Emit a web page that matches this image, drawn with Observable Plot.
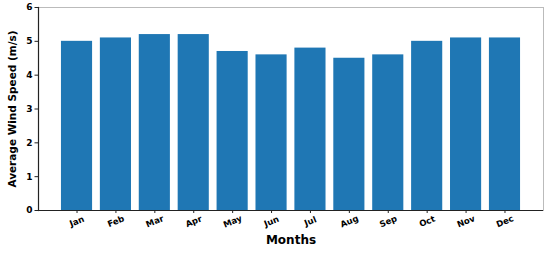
<!DOCTYPE html>
<html>
<head>
<meta charset="utf-8">
<script src="https://cdn.jsdelivr.net/npm/d3@7"></script>
<script src="https://cdn.jsdelivr.net/npm/@observablehq/plot@0.6"></script>
<style>
  html, body { margin: 0; padding: 0; background: #fff; }
  svg { display: block; }
</style>
</head>
<body>
<div id="chart"></div>
<script>
const months = ["Jan","Feb","Mar","Apr","May","Jun","Jul","Aug","Sep","Oct","Nov","Dec"];
const windSpeed = [5.0, 5.1, 5.2, 5.2, 4.7, 4.6, 4.8, 4.5, 4.6, 5.0, 5.1, 5.1];
const yTicks = [0, 1, 2, 3, 4, 5, 6];
const xLabel = "Months";
const yLabel = "Average Wind Speed (m/s)";

const data = months.map((m, i) => ({month: m, value: windSpeed[i]}));
const font = "DejaVu Sans, sans-serif";

const chart = Plot.plot({
  width: 550,
  height: 253,
  marginLeft: 38,
  marginRight: 7,
  marginTop: 7,
  marginBottom: 43,
  style: {fontFamily: font, background: "#fff", overflow: "visible"},
  x: {domain: months, paddingInner: 0.2, paddingOuter: 0.59, round: false, axis: null},
  y: {domain: [0, 6], axis: null},
  marks: [
    Plot.frame({stroke: "#bbb", strokeWidth: 1}),
    Plot.barY(data, {x: "month", y: "value", fill: "#1f77b4", inset: 0}),
    Plot.frame({anchor: "left", stroke: "#222", strokeWidth: 1.2}),
    Plot.ruleY([0], {stroke: "#222", strokeWidth: 1.2}),
    Plot.axisY(yTicks, {
      tickSize: 3.5, tickPadding: 2.5, fontSize: 9, fontWeight: "bold",
      stroke: "#222", label: null, tickFormat: d => String(d)
    }),
    Plot.axisX(months, {tickSize: 3, stroke: "#222", label: null, tickFormat: () => ""}),
    Plot.text(months, {
      x: d => d, frameAnchor: "bottom", dy: 11, rotate: -22,
      textAnchor: "middle", lineAnchor: "middle",
      fontSize: 8.5, fontWeight: "bold", fill: "#000", text: d => d
    }),
    Plot.text([xLabel], {frameAnchor: "bottom", dy: 33, fontSize: 12, fontWeight: "bold", fill: "#000", text: d => d}),
    Plot.text([yLabel], {frameAnchor: "left", dx: -26, rotate: -90, textAnchor: "middle", fontSize: 10.5, fontWeight: "bold", fill: "#000", text: d => d})
  ]
});

document.getElementById("chart").appendChild(chart);
</script>
</body>
</html>
